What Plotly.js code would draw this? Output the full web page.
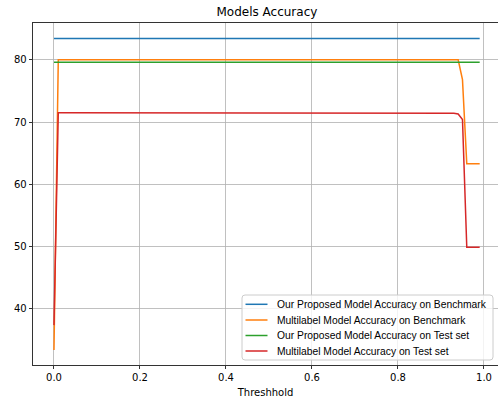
<!DOCTYPE html>
<html>
<head>
<meta charset="utf-8">
<script src="https://cdn.plot.ly/plotly-3.0.1.min.js"></script>
<style>html,body{margin:0;padding:0;background:#fff;}#chart{width:498px;height:400px;}</style>
</head>
<body>
<div id="chart"></div>
<script>
const thresholds = [0.00,0.01,0.02,0.03,0.04,0.05,0.06,0.07,0.08,0.09,
0.10,0.11,0.12,0.13,0.14,0.15,0.16,0.17,0.18,0.19,
0.20,0.21,0.22,0.23,0.24,0.25,0.26,0.27,0.28,0.29,
0.30,0.31,0.32,0.33,0.34,0.35,0.36,0.37,0.38,0.39,
0.40,0.41,0.42,0.43,0.44,0.45,0.46,0.47,0.48,0.49,
0.50,0.51,0.52,0.53,0.54,0.55,0.56,0.57,0.58,0.59,
0.60,0.61,0.62,0.63,0.64,0.65,0.66,0.67,0.68,0.69,
0.70,0.71,0.72,0.73,0.74,0.75,0.76,0.77,0.78,0.79,
0.80,0.81,0.82,0.83,0.84,0.85,0.86,0.87,0.88,0.89,
0.90,0.91,0.92,0.93,0.94,0.95,0.96,0.97,0.98,0.99];

const proposedBenchmark = [83.4,83.4,83.4,83.4,83.4,83.4,83.4,83.4,83.4,83.4,
83.4,83.4,83.4,83.4,83.4,83.4,83.4,83.4,83.4,83.4,
83.4,83.4,83.4,83.4,83.4,83.4,83.4,83.4,83.4,83.4,
83.4,83.4,83.4,83.4,83.4,83.4,83.4,83.4,83.4,83.4,
83.4,83.4,83.4,83.4,83.4,83.4,83.4,83.4,83.4,83.4,
83.4,83.4,83.4,83.4,83.4,83.4,83.4,83.4,83.4,83.4,
83.4,83.4,83.4,83.4,83.4,83.4,83.4,83.4,83.4,83.4,
83.4,83.4,83.4,83.4,83.4,83.4,83.4,83.4,83.4,83.4,
83.4,83.4,83.4,83.4,83.4,83.4,83.4,83.4,83.4,83.4,
83.4,83.4,83.4,83.4,83.4,83.4,83.4,83.4,83.4,83.4];

const multilabelBenchmark = [33.4,80.0,80.0,80.0,80.0,80.0,80.0,80.0,80.0,80.0,
80.0,80.0,80.0,80.0,80.0,80.0,80.0,80.0,80.0,80.0,
80.0,80.0,80.0,80.0,80.0,80.0,80.0,80.0,80.0,80.0,
80.0,80.0,80.0,80.0,80.0,80.0,80.0,80.0,80.0,80.0,
80.0,80.0,80.0,80.0,80.0,80.0,80.0,80.0,80.0,80.0,
80.0,80.0,80.0,80.0,80.0,80.0,80.0,80.0,80.0,80.0,
80.0,80.0,80.0,80.0,80.0,80.0,80.0,80.0,80.0,80.0,
80.0,80.0,80.0,80.0,80.0,80.0,80.0,80.0,80.0,80.0,
80.0,80.0,80.0,80.0,80.0,80.0,80.0,80.0,80.0,80.0,
80.0,80.0,80.0,80.0,80.0,76.8,63.3,63.3,63.3,63.3];

const proposedTest = [79.6,79.6,79.6,79.6,79.6,79.6,79.6,79.6,79.6,79.6,
79.6,79.6,79.6,79.6,79.6,79.6,79.6,79.6,79.6,79.6,
79.6,79.6,79.6,79.6,79.6,79.6,79.6,79.6,79.6,79.6,
79.6,79.6,79.6,79.6,79.6,79.6,79.6,79.6,79.6,79.6,
79.6,79.6,79.6,79.6,79.6,79.6,79.6,79.6,79.6,79.6,
79.6,79.6,79.6,79.6,79.6,79.6,79.6,79.6,79.6,79.6,
79.6,79.6,79.6,79.6,79.6,79.6,79.6,79.6,79.6,79.6,
79.6,79.6,79.6,79.6,79.6,79.6,79.6,79.6,79.6,79.6,
79.6,79.6,79.6,79.6,79.6,79.6,79.6,79.6,79.6,79.6,
79.6,79.6,79.6,79.6,79.6,79.6,79.6,79.6,79.6,79.6];

const multilabelTest = [37.4,71.5,71.5,71.5,71.5,71.5,71.5,71.5,71.5,71.5,
71.5,71.5,71.5,71.5,71.5,71.5,71.5,71.4,71.4,71.4,
71.4,71.4,71.4,71.4,71.4,71.4,71.4,71.4,71.4,71.4,
71.4,71.4,71.4,71.4,71.4,71.4,71.4,71.4,71.4,71.4,
71.4,71.4,71.4,71.4,71.4,71.4,71.4,71.4,71.4,71.4,
71.4,71.4,71.4,71.5,71.5,71.5,71.5,71.5,71.5,71.5,
71.4,71.4,71.4,71.4,71.4,71.4,71.4,71.4,71.4,71.4,
71.4,71.4,71.4,71.4,71.4,71.4,71.4,71.4,71.4,71.4,
71.4,71.4,71.4,71.4,71.4,71.4,71.4,71.4,71.4,71.4,
71.4,71.4,71.4,71.4,71.3,70.4,49.9,49.9,49.9,49.9];

const seriesNames = [
  "Our Proposed Model Accuracy on Benchmark",
  "Multilabel Model Accuracy on Benchmark",
  "Our Proposed Model Accuracy on Test set",
  "Multilabel Model Accuracy on Test set"
];
const seriesValues = [proposedBenchmark, multilabelBenchmark, proposedTest, multilabelTest];
const colors = ["#1f77b4", "#ff7f0e", "#2ca02c", "#d62728"];

const xTickVals = [0.0, 0.2, 0.4, 0.6, 0.8, 1.0];
const xTickText = ["0.0", "0.2", "0.4", "0.6", "0.8", "1.0"];
const yTickVals = [40, 50, 60, 70, 80];
const yTickText = ["40", "50", "60", "70", "80"];

const traces = seriesValues.map((vals, i) => ({
  x: thresholds,
  y: vals,
  type: "scatter",
  mode: "lines",
  name: seriesNames[i],
  line: {color: colors[i], width: 1.5}
}));

// Plot-area geometry (pixels) used to place the compact matplotlib-style legend
const W = 498, H = 400;
const M = {l: 33, r: 0, t: 23, b: 35};
const plotW = W - M.l - M.r, plotH = H - M.t - M.b;
const px = v => (v - M.l) / plotW;
const py = v => (H - M.b - v) / plotH;

const legBox = {x0: 242, x1: 493, y0: 295, y1: 360, r: 3};
const legRowY = [304.3, 320, 335.5, 351];
const legLineX = [245.5, 267.5];
const legTextX = 275;

function roundedRectPath(b) {
  const x0 = px(b.x0), x1 = px(b.x1), y0 = py(b.y0), y1 = py(b.y1);
  const rx = b.r / plotW, ry = b.r / plotH;
  return `M ${x0 + rx},${y0} L ${x1 - rx},${y0} Q ${x1},${y0} ${x1},${y0 - ry} ` +
         `L ${x1},${y1 + ry} Q ${x1},${y1} ${x1 - rx},${y1} L ${x0 + rx},${y1} ` +
         `Q ${x0},${y1} ${x0},${y1 + ry} L ${x0},${y0 - ry} Q ${x0},${y0} ${x0 + rx},${y0} Z`;
}

const shapes = [{
  type: "path", xref: "paper", yref: "paper",
  path: roundedRectPath(legBox),
  fillcolor: "rgba(255,255,255,0.8)",
  line: {color: "#cccccc", width: 1},
  layer: "above"
}];
const annotations = [];
seriesNames.forEach((name, i) => {
  shapes.push({
    type: "line", xref: "paper", yref: "paper",
    x0: px(legLineX[0]), x1: px(legLineX[1]),
    y0: py(legRowY[i]), y1: py(legRowY[i]),
    line: {color: colors[i], width: 1.5},
    layer: "above"
  });
  annotations.push({
    xref: "paper", yref: "paper",
    x: px(legTextX), y: py(legRowY[i]),
    xanchor: "left", yanchor: "middle",
    text: name, showarrow: false,
    font: {family: "Liberation Sans", size: 10.3, color: "#000"}
  });
});

const tickFont = {family: "DejaVu Sans", size: 10, color: "#000"};

const layout = {
  width: W,
  height: H,
  margin: M,
  paper_bgcolor: "#fff",
  plot_bgcolor: "#fff",
  title: {
    text: "Models Accuracy",
    font: {family: "DejaVu Sans", size: 12, color: "#000"},
    xref: "container", x: 0.536, xanchor: "center",
    yref: "container", y: 0.97, yanchor: "middle"
  },
  xaxis: {
    range: [-0.0488, 1.0326],
    tickvals: xTickVals,
    ticktext: xTickText,
    ticks: "outside",
    ticklen: 3.5,
    tickwidth: 0.8,
    tickcolor: "#000",
    tickfont: tickFont,
    showgrid: true,
    gridcolor: "#b0b0b0",
    gridwidth: 0.8,
    zeroline: false,
    showline: true,
    linecolor: "#000",
    linewidth: 0.8,
    mirror: true,
    title: {text: "Threshhold", font: tickFont, standoff: 6}
  },
  yaxis: {
    range: [31.0, 85.9],
    tickvals: yTickVals,
    ticktext: yTickText,
    ticks: "outside",
    ticklen: 3.5,
    tickwidth: 0.8,
    tickcolor: "#000",
    tickfont: tickFont,
    showgrid: true,
    gridcolor: "#b0b0b0",
    gridwidth: 0.8,
    zeroline: false,
    showline: true,
    linecolor: "#000",
    linewidth: 0.8
  },
  showlegend: false,
  shapes: shapes,
  annotations: annotations
};

Plotly.newPlot("chart", traces, layout, {displayModeBar: false, staticPlot: true});
</script>
</body>
</html>
